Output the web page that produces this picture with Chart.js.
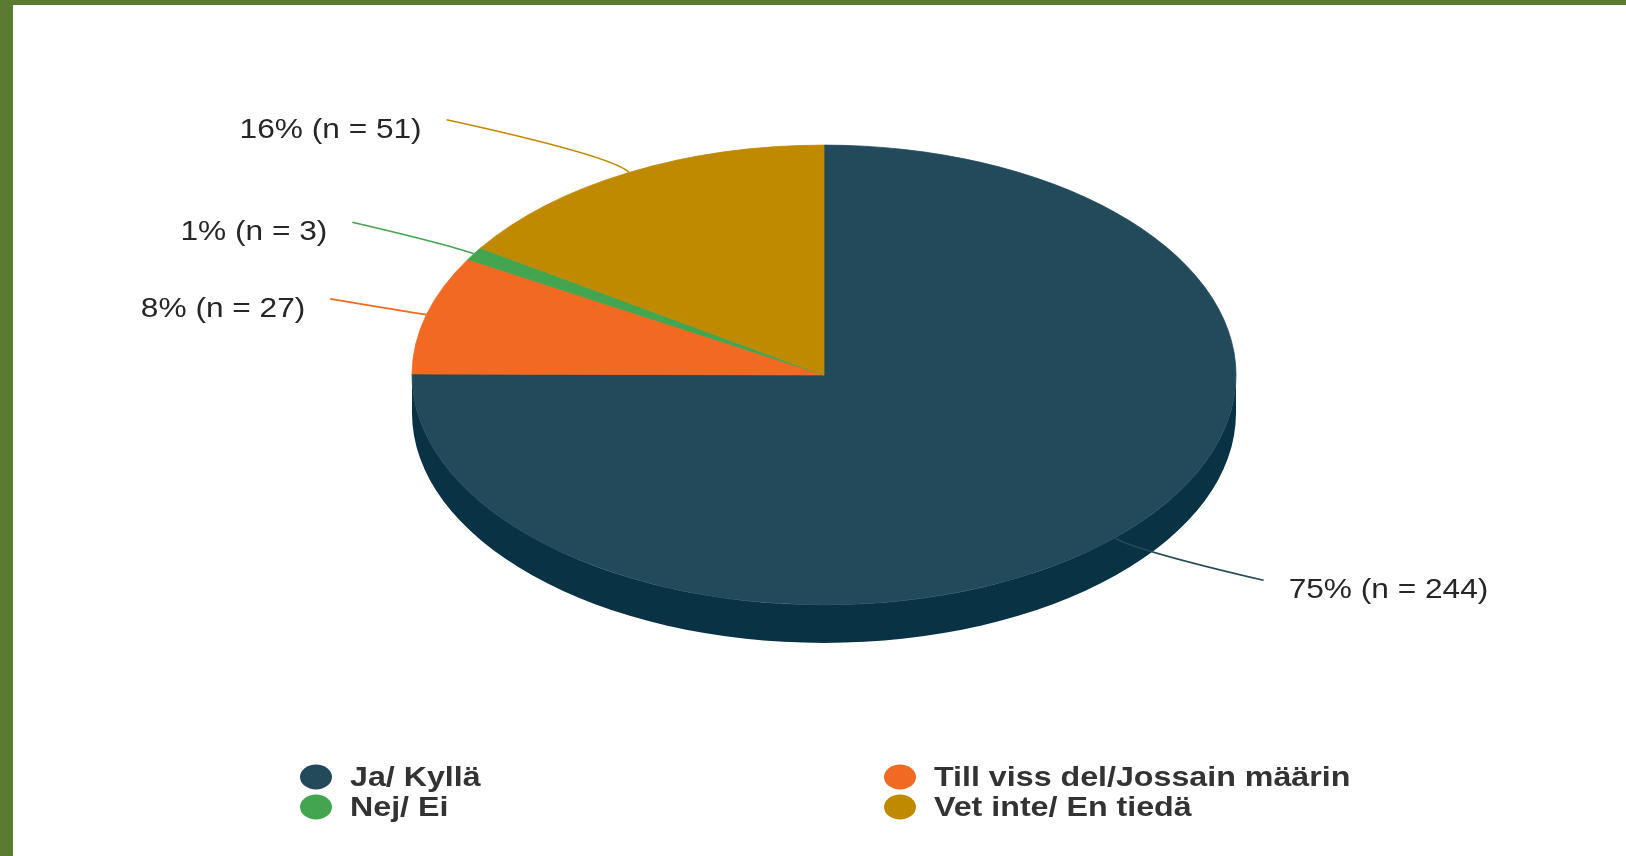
<!DOCTYPE html>
<html>
<head>
<meta charset="utf-8">
<script src="https://cdn.jsdelivr.net/npm/chart.js@4/dist/chart.umd.min.js"></script>
<style>
    html, body { margin: 0; padding: 0; background: #ffffff; }
    #frame { position: relative; width: 1626px; height: 856px; overflow: hidden; background: #ffffff; }
    #frame canvas { position: absolute; left: 0; top: 0; }
    .edge { position: absolute; background: #5b7b30; }
    #edgeLeft { left: 0; top: 0; width: 13px; height: 856px; }
    #edgeTop { left: 0; top: 0; width: 1626px; height: 5px; }
</style>
</head>
<body>
<div id="frame">
    <canvas id="pieChart" width="1626" height="856"></canvas>
    <div class="edge" id="edgeLeft"></div>
    <div class="edge" id="edgeTop"></div>
</div>
<script>
// Data
const categories = ['Ja/ Kyllä', 'Till viss del/Jossain määrin', 'Nej/ Ei', 'Vet inte/ En tiedä'];
const counts = [244, 27, 3, 51];

// Styles
const sliceColors = ['#224a5a', '#f26a22', '#43a550', '#c08a00'];
const sideColors = ['#093244', '#b24c14', '#2d7838', '#8a6300'];
const tilt = 0.558;      // vertical squash of the top face
const depth = 38;        // thickness of the pie

const total = counts.reduce((a, b) => a + b, 0);

function labelFor(i) {
    return `${Math.round(counts[i] / total * 100)}% (n = ${counts[i]})`;
}

function drawStretchedText(ctx, text, x, y, align, font, stretch) {
    ctx.save();
    ctx.translate(x, y);
    ctx.scale(stretch, 1);
    ctx.font = font;
    ctx.textAlign = align;
    ctx.textBaseline = 'middle';
    ctx.fillText(text, 0, 0);
    ctx.restore();
}

// 3D look: side wall under the pie and vertical squash of the top face
const pie3d = {
    id: 'pie3d',
    beforeDatasetsDraw(chart) {
        const ctx = chart.ctx;
        const arcs = chart.getDatasetMeta(0).data;
        const cx = arcs[0].x, cy = arcs[0].y, rx = arcs[0].outerRadius, ry = rx * tilt;

        arcs.forEach((arc, i) => {
            [0, 2 * Math.PI].forEach(shift => {
                const a0 = Math.max(arc.startAngle, shift);
                const a1 = Math.min(arc.endAngle, shift + Math.PI);
                if (a1 <= a0) return;
                ctx.beginPath();
                ctx.ellipse(cx, cy, rx, ry, 0, a0, a1);
                ctx.ellipse(cx, cy + depth, rx, ry, 0, a1, a0, true);
                ctx.closePath();
                ctx.fillStyle = sideColors[i];
                ctx.fill();
            });
        });

        ctx.save();
        ctx.translate(cx, cy);
        ctx.scale(1, tilt);
        ctx.translate(-cx, -cy);
    },
    afterDatasetsDraw(chart) {
        const ctx = chart.ctx;
        ctx.restore();

        const arcs = chart.getDatasetMeta(0).data;
        arcs.forEach((arc, i) => {
            const rx = arc.outerRadius, ry = rx * tilt;
            const mid = (arc.startAngle + arc.endAngle) / 2;
            const cos = Math.cos(mid), sin = Math.sin(mid);
            const side = cos >= 0 ? 1 : -1;

            const ax = arc.x + rx * cos;
            const ay = arc.y + ry * sin;
            const bx = arc.x + rx * 1.08 * cos;
            const by = arc.y + ry * 1.08 * sin;
            const ex = ax + side * (0.213 + 0.296 * sin * sin) * rx;
            const ey = arc.y + ry * sin * 1.26;

            ctx.save();
            ctx.strokeStyle = sliceColors[i];
            ctx.lineWidth = 1.6;
            ctx.beginPath();
            ctx.moveTo(ex, ey);
            ctx.quadraticCurveTo(bx, by, ax, ay);
            ctx.stroke();
            ctx.restore();

            ctx.fillStyle = '#262626';
            const tx = ex + side * 25;
            drawStretchedText(ctx, labelFor(i), tx, ey + 10, side > 0 ? 'left' : 'right',
                '28px "Liberation Sans", Arial, sans-serif', 1.13);
        });
    }
};

// Two column legend under the pie
const gridLegend = {
    id: 'gridLegend',
    afterDraw(chart) {
        const ctx = chart.ctx;
        const colX = [316, 900];
        const rowY = [777, 807];
        categories.forEach((name, i) => {
            const x = colX[i % 2];
            const y = rowY[Math.floor(i / 2)];
            ctx.beginPath();
            ctx.ellipse(x, y, 16, 12.5, 0, 0, 2 * Math.PI);
            ctx.fillStyle = sliceColors[i];
            ctx.fill();
            ctx.fillStyle = '#333333';
            drawStretchedText(ctx, name, x + 34, y + 1, 'left',
                'bold 28px "Liberation Sans", Arial, sans-serif', 1.15);
        });
    }
};

new Chart(document.getElementById('pieChart').getContext('2d'), {
    type: 'pie',
    data: {
        labels: categories,
        datasets: [{
            data: counts,
            backgroundColor: sliceColors,
            borderColor: sliceColors,
            borderWidth: 1,
            clip: false
        }]
    },
    options: {
        responsive: false,
        animation: false,
        radius: 412,
        layout: { padding: { left: 22, right: 0, top: 0, bottom: 106 } },
        plugins: {
            legend: { display: false },
            tooltip: { enabled: false }
        }
    },
    plugins: [pie3d, gridLegend]
});
</script>
</body>
</html>
